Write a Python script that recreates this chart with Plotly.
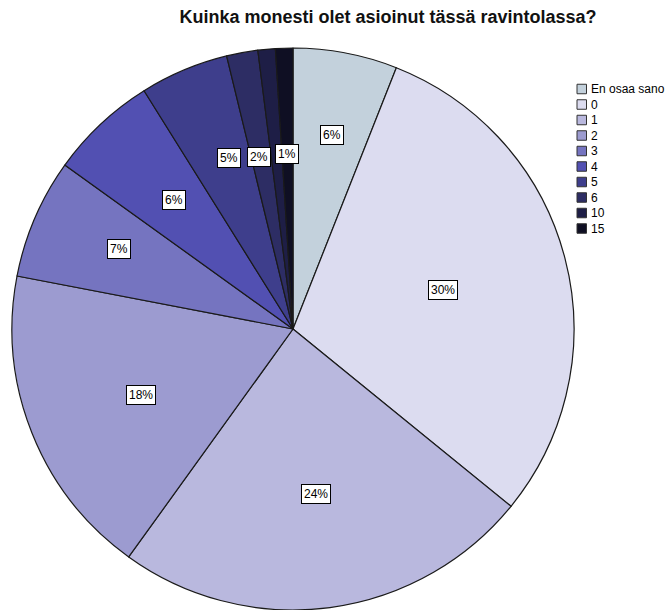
import math
import plotly.graph_objects as go

# Survey answers: "How many times have you visited this restaurant?"
categories = ["En osaa sano", "0", "1", "2", "3", "4", "5", "6", "10", "15"]
shares = [6.0, 29.9, 24.1, 18.1, 6.9, 6.2, 5.1, 1.8, 1.0, 1.0]
label_texts = ["6%", "30%", "24%", "18%", "7%", "6%", "5%", "2%", None, "1%"]

colors = ["#c3d1dc", "#dcdcf0", "#b9b8de", "#9c9bd0", "#7574c0",
          "#5250b2", "#3e3e8c", "#2d2d64", "#1e1e46", "#0f0f23"]
# radial placement of each value box, as a fraction of the pie radius
label_radius = [0.74, 0.55, 0.63, 0.64, 0.72, 0.68, 0.70, 0.66, 0.66, 0.66]

FONT = "Liberation Sans, Arial, sans-serif"
W, H = 668, 610
TOP = 48
cx, cy, R = 293, 329, 281


def to_paper(px, py):
    """Pixel position -> paper coordinates (plot area spans the full width)."""
    return px / W, 1 - (py - TOP) / (H - TOP)


fig = go.Figure(go.Pie(
    labels=categories,
    values=shares,
    sort=False,
    direction="clockwise",
    rotation=0,
    marker=dict(colors=colors, line=dict(color="#1a1a1a", width=1.2)),
    textinfo="none",
    hoverinfo="label+percent",
    domain=dict(x=[(cx - R) / W, (cx + R) / W], y=[0, 1]),
    showlegend=False,
))

annotations = []
shapes = []

# boxed percentage labels placed at each slice's mid-angle
total = sum(shares)
cum = 0.0
for val, txt, rf in zip(shares, label_texts, label_radius):
    mid = (cum + val / 2) / total * 2 * math.pi
    cum += val
    if txt is None:
        continue
    x, y = to_paper(cx + rf * R * math.sin(mid), cy - rf * R * math.cos(mid))
    annotations.append(dict(
        x=x, y=y, xref="paper", yref="paper",
        text=txt, showarrow=False,
        font=dict(family=FONT, size=12, color="black"),
        bgcolor="white", bordercolor="black", borderwidth=1, borderpad=2,
    ))

# legend: swatch + category name, one row per category
LX, LY0, LSTEP, SW = 577, 89, 15.5, 9.5
for i, (cat, col) in enumerate(zip(categories, colors)):
    yc = LY0 + i * LSTEP
    x0, y0 = to_paper(LX, yc - SW / 2)
    x1, y1 = to_paper(LX + SW, yc + SW / 2)
    shapes.append(dict(
        type="rect", xref="paper", yref="paper",
        x0=x0, x1=x1, y0=y1, y1=y0,
        fillcolor=col, line=dict(color="#333333", width=1),
    ))
    tx, ty = to_paper(LX + SW + 2, yc)
    annotations.append(dict(
        x=tx, y=ty, xref="paper", yref="paper",
        xanchor="left", yanchor="middle",
        text=cat, showarrow=False,
        font=dict(family=FONT, size=12, color="black"),
    ))

fig.update_layout(
    width=W, height=H,
    margin=dict(l=0, r=0, t=TOP, b=0),
    paper_bgcolor="white",
    plot_bgcolor="white",
    showlegend=False,
    title=dict(
        text="<b>Kuinka monesti olet asioinut tässä ravintolassa?</b>",
        x=388 / W, xanchor="center", xref="paper",
        y=1 - 17 / H, yanchor="middle", yref="container",
        font=dict(family=FONT, size=18, color="#111111"),
    ),
    annotations=annotations,
    shapes=shapes,
)

fig.write_html("out.html")
